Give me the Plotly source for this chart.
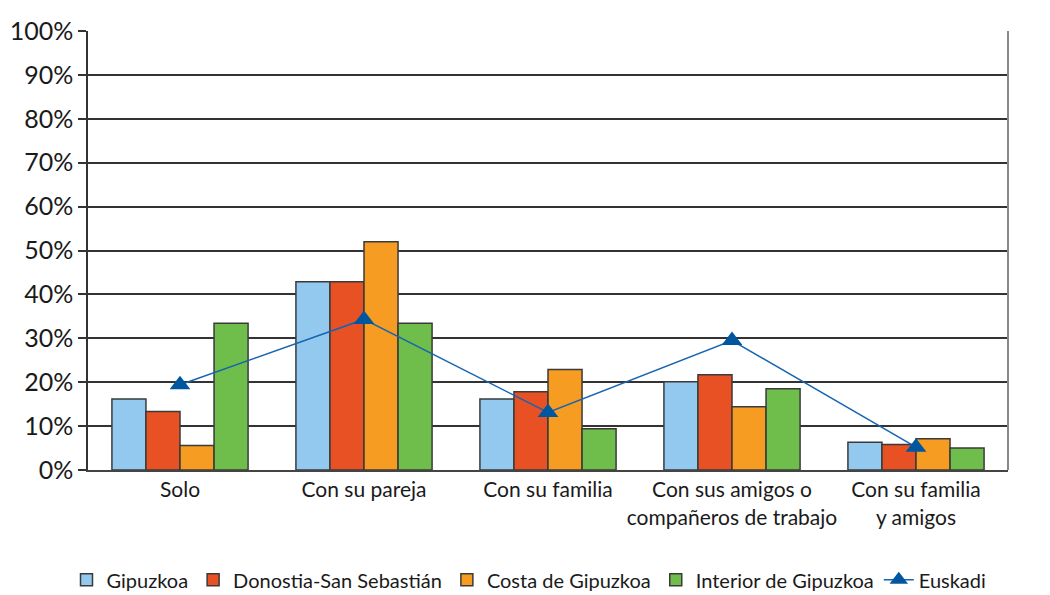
import plotly.graph_objects as go

categories = ["Solo", "Con su pareja", "Con su familia",
              "Con sus amigos o<br>compañeros de trabajo", "Con su familia<br>y amigos"]
gipuzkoa = [16.2, 42.9, 16.2, 20.1, 6.3]
donostia = [13.3, 42.9, 17.8, 21.7, 5.8]
costa = [5.6, 52.0, 22.9, 14.4, 7.1]
interior = [33.4, 33.4, 9.4, 18.5, 5.0]
euskadi = [19.4, 34.3, 13.1, 29.5, 5.2]

series = [
    ("Gipuzkoa", gipuzkoa, "#93C9EE"),
    ("Donostia-San Sebastián", donostia, "#E85124"),
    ("Costa de Gipuzkoa", costa, "#F69C22"),
    ("Interior de Gipuzkoa", interior, "#6FBD4A"),
]

fig = go.Figure()
for name, vals, col in series:
    fig.add_trace(go.Bar(
        x=categories, y=vals, name=name,
        marker=dict(color=col, line=dict(color="#3a3a3a", width=1.5)),
    ))
fig.add_trace(go.Scatter(
    x=categories, y=euskadi, name="Euskadi", mode="lines+markers",
    line=dict(color="#1565B0", width=1.5),
    marker=dict(symbol="triangle-up", size=18, color="#0057A0"),
))

fig.update_layout(
    width=1042, height=587,
    margin=dict(l=80, r=42, t=23, b=125, autoexpand=False),
    paper_bgcolor="white", plot_bgcolor="white",
    barmode="group", bargap=0.26, bargroupgap=0,
    font=dict(family="Lato, sans-serif", color="#1a1a1a"),
    showlegend=True,
    legend=dict(orientation="h", xref="container", yref="container",
                x=0.5, xanchor="center", y=0.026, yanchor="middle",
                font=dict(size=20), itemwidth=30, traceorder="normal",
                tracegroupgap=0),
)
fig.update_yaxes(
    range=[0, 100], dtick=10, ticksuffix="%",
    showgrid=True, gridcolor="#333", gridwidth=1.5,
    ticks="outside", ticklen=8, tickcolor="#333", tickwidth=1.5,
    showline=True, linecolor="#333", linewidth=1.5,
    tickfont=dict(size=25), zeroline=False, automargin=False,
)
fig.update_xaxes(
    showline=True, linecolor="#444", linewidth=2,
    tickfont=dict(size=21), ticks="", automargin=False,
)
fig.add_shape(type="line", xref="paper", yref="paper", x0=1, x1=1, y0=0, y1=1,
              line=dict(color="#888", width=2))

fig.write_html("out.html")
